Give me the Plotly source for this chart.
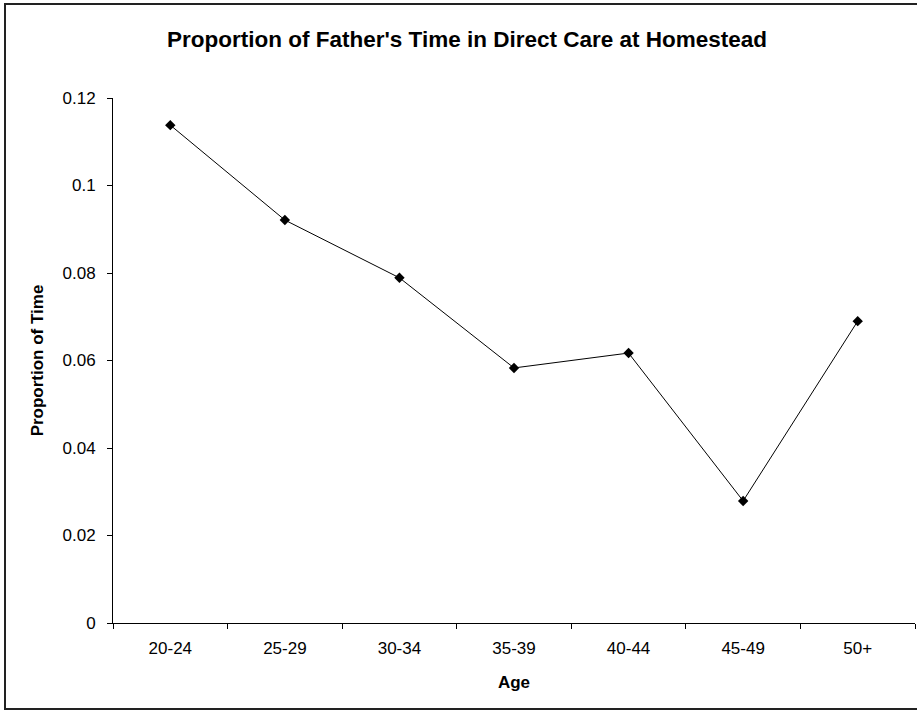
import plotly.graph_objects as go

# Age groups and the share of each father's time spent in direct care
age_groups = ["20-24", "25-29", "30-34", "35-39", "40-44", "45-49", "50+"]
proportion = [0.1138, 0.0921, 0.0789, 0.0583, 0.0617, 0.0279, 0.0690]

y_tick_vals = [0, 0.02, 0.04, 0.06, 0.08, 0.1, 0.12]
y_tick_text = ["0", "0.02", "0.04", "0.06", "0.08", "0.1", "0.12"]

W, H = 917, 711
L, R, T, B = 113, 2, 98, 88
pw, ph = W - L - R, H - T - B

font = "Liberation Sans, Arial, sans-serif"

fig = go.Figure(
    go.Scatter(
        x=age_groups,
        y=proportion,
        mode="lines+markers",
        line=dict(color="black", width=1),
        marker=dict(symbol="diamond", size=8, color="black"),
    )
)

# Chart-area frame (extends past the right edge of the page)
fig.add_shape(
    type="rect", xref="paper", yref="paper",
    x0=(5 - L) / pw, x1=(930 - L) / pw,
    y0=(H - B - 709) / ph, y1=(H - B - 4) / ph,
    line=dict(color="#222", width=2), layer="below",
)

fig.update_layout(
    width=W, height=H,
    margin=dict(l=L, r=R, t=T, b=B),
    paper_bgcolor="white", plot_bgcolor="white",
    showlegend=False,
    font=dict(family=font, size=17, color="black"),
    title=dict(
        text="<b>Proportion of Father's Time in Direct Care at Homestead</b>",
        x=467 / W, xanchor="center", y=1 - 39 / H, yanchor="middle",
        font=dict(family=font, size=22.5, color="black"),
    ),
    xaxis=dict(
        type="category", range=[-0.5, 6.5],
        showline=True, linecolor="black", linewidth=1,
        ticks="outside", tickson="boundaries", ticklen=5, tickcolor="black",
        ticklabelstandoff=10,
        showgrid=False, zeroline=False,
        title=dict(text="<b>Age</b>", font=dict(family=font, size=17), standoff=18),
    ),
    yaxis=dict(
        range=[0, 0.12], tickvals=y_tick_vals, ticktext=y_tick_text,
        showline=True, linecolor="black", linewidth=1,
        ticks="outside", ticklen=5, tickcolor="black",
        ticklabelstandoff=8,
        showgrid=False, zeroline=False,
        title=dict(text="<b>Proportion of Time</b>", font=dict(family=font, size=17), standoff=14),
    ),
)

fig.write_html("out.html")
